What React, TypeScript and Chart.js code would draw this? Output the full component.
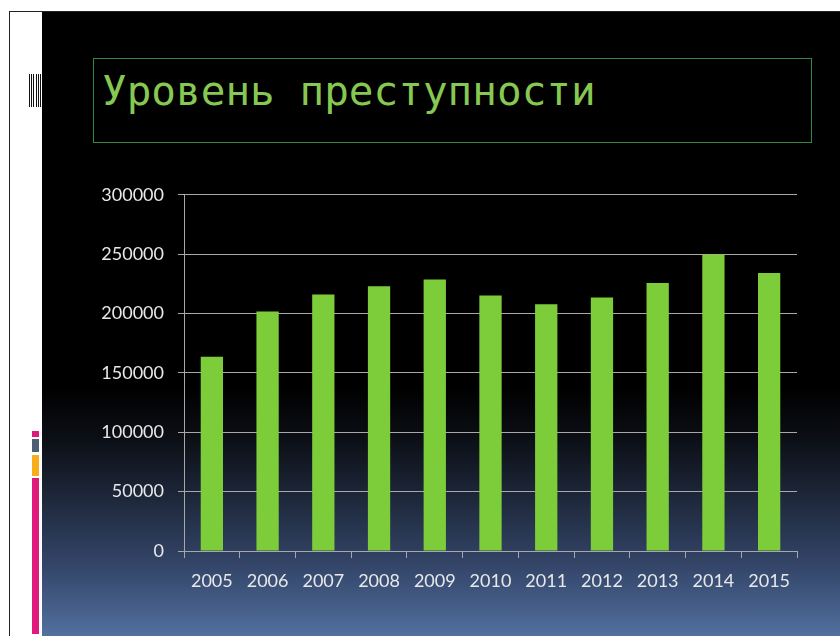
import React, { useEffect, useRef } from "react";
import { Chart, registerables } from "chart.js";

Chart.register(...registerables);

const years = ["2005", "2006", "2007", "2008", "2009", "2010", "2011", "2012", "2013", "2014", "2015"];
const crimes = [163500, 201700, 216000, 223000, 228700, 215200, 207800, 213500, 225800, 249800, 234200];
const yMin = 0;
const yMax = 300000;
const yStep = 50000;
const titleText = "Уровень преступности";

export default function App() {
  const ref = useRef<HTMLCanvasElement | null>(null);

  useEffect(() => {
    document.body.style.margin = "0";
    if (!ref.current) return;
    const chart = new Chart(ref.current, {
      type: "bar",
      data: {
        labels: years,
        datasets: [
          {
            data: crimes,
            backgroundColor: "#7dcd3b",
            borderWidth: 0,
            barPercentage: 0.4,
            categoryPercentage: 1,
          },
        ],
      },
      options: {
        responsive: false,
        animation: false,
        layout: { padding: { top: 5, right: 13, bottom: 14, left: 0 } },
        plugins: { legend: { display: false }, tooltip: { enabled: false }, title: { display: false } },
        scales: {
          x: {
            offset: true,
            grid: {
              offset: true,
              drawOnChartArea: false,
              drawTicks: true,
              tickLength: 7,
              color: "#a8a8a8",
              lineWidth: 1,
            },
            border: { display: true, color: "#a8a8a8", width: 1 },
            ticks: {
              color: "#e8e8e8",
              padding: 12,
              font: { family: "Lato", size: 18 },
              maxRotation: 0,
              autoSkip: false,
            },
            afterFit: (scale: any) => {
              scale.height = 45;
            },
          },
          y: {
            min: yMin,
            max: yMax,
            grid: {
              drawTicks: true,
              tickLength: 6,
              color: "#a8a8a8",
              lineWidth: 1,
            },
            border: { display: true, color: "#a8a8a8", width: 1 },
            ticks: {
              stepSize: yStep,
              color: "#e8e8e8",
              padding: 14,
              font: { family: "Lato", size: 18 },
              callback: (v: any) => String(v),
            },
            afterFit: (scale: any) => {
              scale.width = 94;
            },
          },
        },
      },
    });
    return () => chart.destroy();
  }, []);

  return (
    <div
      style={{
        position: "fixed",
        left: 0,
        top: 0,
        width: 840,
        height: 636,
        background: "#ffffff",
        overflow: "hidden",
      }}
    >
      {/* frame lines */}
      <div
        style={{
          position: "absolute",
          left: 9,
          top: 11,
          right: 0,
          bottom: 0,
          borderTop: "1px solid #222",
          borderLeft: "1px solid #222",
        }}
      />
      {/* barcode decoration */}
      <div
        style={{
          position: "absolute",
          left: 29,
          top: 74,
          width: 13,
          height: 33,
          background:
            "repeating-linear-gradient(90deg, #111 0px, #111 1px, #fff 1px, #fff 2.2px)",
        }}
      />
      {/* colored decoration bars */}
      <div style={{ position: "absolute", left: 32, top: 431, width: 7, height: 6, background: "#e01a7c" }} />
      <div style={{ position: "absolute", left: 32, top: 439, width: 7, height: 13, background: "#4f5e73" }} />
      <div style={{ position: "absolute", left: 32, top: 455, width: 7, height: 21, background: "#f8ad1a" }} />
      <div style={{ position: "absolute", left: 32, top: 478, width: 7, height: 156, background: "#e01a7c" }} />
      {/* slide */}
      <div
        style={{
          position: "absolute",
          left: 42,
          top: 12,
          right: 0,
          bottom: 0,
          background:
            "linear-gradient(to bottom, #000000 0%, #000000 60%, #0b0e14 68%, #1e283b 78%, #34466a 89%, #52709f 100%)",
        }}
      />
      {/* title box */}
      <div
        style={{
          position: "absolute",
          left: 93,
          top: 58,
          width: 717,
          height: 83,
          border: "1px solid #2f8a45",
        }}
      />
      <div
        style={{
          position: "absolute",
          left: 102,
          top: 67,
          fontFamily: "'DejaVu Sans Mono', monospace",
          fontSize: 41,
          lineHeight: "normal",
          color: "#86c852",
          whiteSpace: "pre",
        }}
      >
        {titleText}
      </div>
      <canvas
        ref={ref}
        width={720}
        height={440}
        style={{ position: "absolute", left: 90, top: 170, width: 720, height: 440 }}
      />
    </div>
  );
}
